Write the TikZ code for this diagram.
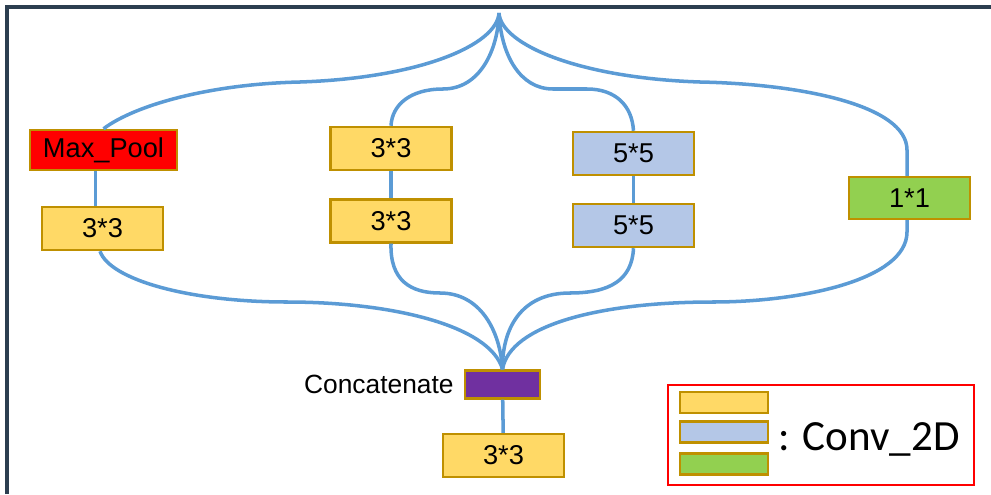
\documentclass[tikz,border=0pt]{standalone}
\usepackage{fontspec}
\setmainfont{Liberation Sans}
\newfontfamily\legendfont{Carlito}
\usetikzlibrary{positioning}
\definecolor{boxedge}{HTML}{BF9000}
\definecolor{convyellow}{HTML}{FFD966}
\definecolor{convblue}{HTML}{B4C7E7}
\definecolor{convgreen}{HTML}{92D050}
\definecolor{poolred}{HTML}{FF0000}
\definecolor{catpurple}{HTML}{7030A0}
\definecolor{linkblue}{HTML}{5B9BD5}
\definecolor{framenavy}{HTML}{2C3E50}

\tikzset{
  layer/.style={draw=boxedge, line width=1.4pt, inner sep=0pt,
    minimum width=2.42cm, minimum height=0.86cm,
    font=\fontsize{15.5}{18}\selectfont},
  legendbar/.style={draw=boxedge, line width=1.4pt, inner sep=0pt,
    minimum width=1.76cm, minimum height=0.42cm},
  link/.style={draw=linkblue, line width=2pt},
}

\begin{document}
\begin{tikzpicture}[x=0.02cm, y=-0.02cm]
		%%%%% START %%%%%
		\useasboundingbox (0,0) rectangle (991,494);
		
		\draw[framenavy, line width=2pt] (7,494) -- (7,7) -- (991,7);
		
		\coordinate (split) at (499,13);
		
		\node[layer, fill=poolred, minimum width=2.94cm, minimum height=0.8cm] (pool) at (103.5,150) {Max\_Pool};
		\node[layer, fill=convyellow] (convA) at (102.5,228.5) {3*3};
		
		\node[layer, fill=convyellow] (convB) at (391,148.5) {3*3};
		\node[layer, fill=convyellow] (convC) at (391,221) {3*3};
		
		\node[layer, fill=convblue] (convD) at (633.5,153.5) {5*5};
		\node[layer, fill=convblue] (convE) at (633.5,225.5) {5*5};
		
		\node[layer, fill=convgreen, minimum height=0.84cm] (convF) at (909.5,198) {1*1};
		
		\node[layer, fill=catpurple, minimum width=1.5cm, minimum height=0.56cm] (concat) at (502.5,384.5) {};
		\node[left=0.08cm of concat, font=\fontsize{15}{18}\selectfont] (catlabel) {Concatenate};
		\node[layer, fill=convyellow] (convOut) at (503.5,455.5) {3*3};
		
		% branches out of the split
		\draw[link] (split) .. controls (497,45) and (420,78) .. (300,82)
		  .. controls (210,84) and (135,105) .. (pool.north);
		\draw[link] (split) .. controls (498,50) and (480,89) .. (443,89)
		  .. controls (410,89) and (392,105) .. (convB.north);
		\draw[link] (split) .. controls (501,55) and (520,89) .. (553,89) -- (587,89)
		  .. controls (615,89) and (632,105) .. (convD.north);
		\draw[link] (split) .. controls (501,45) and (580,78) .. (700,82)
		  .. controls (800,84) and (907,105) .. (907,150) -- (convF.north -| 907,0);
		
		\draw[link] ([xshift=-0.16cm]pool.south) -- ([xshift=-0.16cm]pool.south |- convA.north);
		\draw[link] (convB) -- (convC);
		\draw[link] (convD) -- (convE);
		
		% branches into the concatenation
		\draw[link] ([xshift=-0.05cm]convA.south) .. controls (110,280) and (190,302) .. (287,302)
		  .. controls (390,302) and (490,325) .. (concat.north);
		\draw[link] (convC.south) .. controls (390,280) and (410,293) .. (440,293)
		  .. controls (480,293) and (500,330) .. (concat.north);
		\draw[link] (convE.south) .. controls (632,280) and (610,293) .. (570,293)
		  .. controls (520,293) and (502,330) .. (concat.north);
		\draw[link] (convF.south -| 907,0) -- (907,232) .. controls (907,280) and (800,302) .. (713,302)
		  .. controls (600,302) and (510,325) .. (concat.north);
		
		\draw[link] (concat) -- (convOut);
		
		% legend
		\draw[red, line width=1.3pt] (668,385) rectangle (974,485);
		\node[legendbar, fill=convyellow] (legA) at (724,402.5) {};
		\node[legendbar, fill=convblue] (legB) at (724,432) {};
		\node[legendbar, fill=convgreen] (legC) at (724,464) {};
		\node[anchor=west, inner sep=0pt, font=\legendfont\fontsize{24.5}{28}\selectfont] (legtext) at (778,439) {: Conv\_2D};
		
		%%%%% END %%%%%
\end{tikzpicture}
\end{document}
